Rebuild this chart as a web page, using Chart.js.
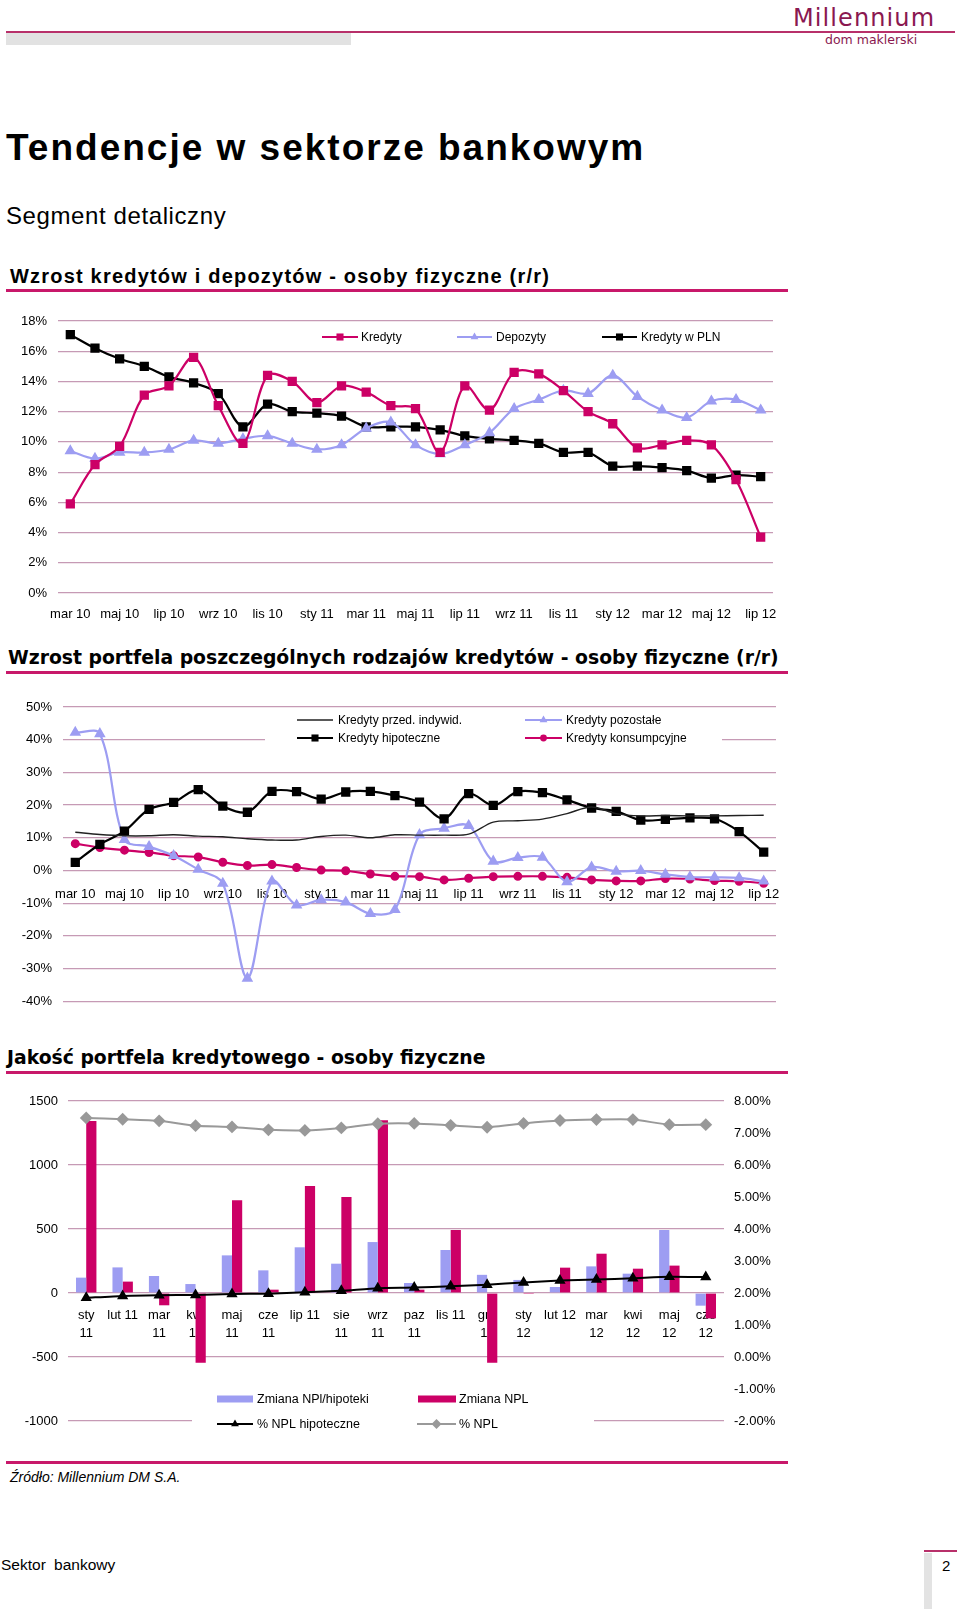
<!DOCTYPE html>
<html lang="pl">
<head>
<meta charset="utf-8">
<title>Tendencje w sektorze bankowym</title>
<script src="https://cdn.jsdelivr.net/npm/chart.js@4.4.1/dist/chart.umd.min.js"></script>
<style>
  html, body { margin: 0; padding: 0; background: #fff; }
  #page { position: relative; width: 960px; height: 1611px; overflow: hidden; font-family: "Liberation Sans", Arial, sans-serif; color: #000; }
  .abs { position: absolute; white-space: nowrap; line-height: 1; }
  .rule { position: absolute; left: 6px; width: 782px; height: 3px; background: #c8186a; }
  .ctitle { position: absolute; left: 8px; white-space: nowrap; line-height: 1; font-family: "DejaVu Sans", Verdana, sans-serif; font-weight: bold; font-size: 18.8px; }
  canvas { position: absolute; left: 0; }
</style>
</head>
<body>
<div id="page">
  <!-- header -->
  <div class="abs" style="left:793px;top:6px;font-family:'DejaVu Sans',sans-serif;font-size:24px;letter-spacing:1.1px;color:#8a1850;">Millennium</div>
  <div style="position:absolute;left:6px;top:31px;width:949px;height:2px;background:#b8306a;"></div>
  <div style="position:absolute;left:6px;top:33px;width:345px;height:12px;background:#e2e2e2;"></div>
  <div class="abs" style="left:825px;top:34px;font-family:'DejaVu Sans',sans-serif;font-size:12.5px;color:#8a1850;">dom maklerski</div>

  <div class="abs" style="left:6px;top:129px;font-size:37px;font-weight:bold;letter-spacing:2px;">Tendencje w sektorze bankowym</div>
  <div class="abs" style="left:6px;top:204px;font-size:24px;letter-spacing:0.6px;">Segment detaliczny</div>

  <!-- chart 1 -->
  <div class="abs" style="left:10px;top:266px;font-size:20px;font-weight:bold;letter-spacing:1.2px;">Wzrost kredytów i depozytów - osoby fizyczne (r/r)</div>
  <div class="rule" style="top:289px;"></div>
  <canvas id="c1" width="800" height="330" style="top:300px;"></canvas>

  <!-- chart 2 -->
  <div class="ctitle" style="top:649px;">Wzrost portfela poszczególnych rodzajów kredytów - osoby fizyczne (r/r)</div>
  <div class="rule" style="top:671px;"></div>
  <canvas id="c2" width="800" height="340" style="top:680px;"></canvas>

  <!-- chart 3 -->
  <div class="ctitle" style="top:1049px;left:7px;">Jakość portfela kredytowego - osoby fizyczne</div>
  <div class="rule" style="top:1071px;"></div>
  <canvas id="c3" width="800" height="360" style="top:1080px;"></canvas>

  <div class="rule" style="top:1461px;"></div>
  <div class="abs" style="left:10px;top:1470px;font-size:14px;font-style:italic;">Źródło: Millennium DM S.A.</div>

  <!-- footer -->
  <div class="abs" style="left:1px;top:1557px;font-size:15.5px;word-spacing:4px;">Sektor bankowy</div>
  <div style="position:absolute;left:924px;top:1550px;width:33px;height:2px;background:#b8306a;"></div>
  <div style="position:absolute;left:924px;top:1553px;width:8px;height:56px;background:#e3e3e3;"></div>
  <div class="abs" style="left:942px;top:1558px;font-size:15px;">2</div>
</div>

<script>
// DATA

// chart 1: Wzrost kredytów i depozytów (r/r, %)
const months1 = ['mar 10', 'kwi 10', 'maj 10', 'cze 10', 'lip 10', 'sie 10', 'wrz 10', 'paz 10', 'lis 10', 'gru 10',
	'sty 11', 'lut 11', 'mar 11', 'kwi 11', 'maj 11', 'cze 11', 'lip 11', 'sie 11', 'wrz 11', 'paz 11', 'lis 11', 'gru 11',
	'sty 12', 'lut 12', 'mar 12', 'kwi 12', 'maj 12', 'cze 12', 'lip 12'];
const kredyty = [5.9, 8.5, 9.7, 13.1, 13.7, 15.6, 12.4, 9.9, 14.4, 14.0, 12.6, 13.7, 13.3, 12.4, 12.2, 9.3, 13.7,
	12.1, 14.6, 14.5, 13.4, 12.0, 11.2, 9.6, 9.8, 10.1, 9.8, 7.5, 3.7];
const depozyty = [9.4, 8.9, 9.3, 9.3, 9.5, 10.1, 9.9, 10.2, 10.4, 9.9, 9.5, 9.8, 10.9, 11.3, 9.8, 9.2, 9.8,
	10.6, 12.2, 12.8, 13.4, 13.2, 14.4, 13.0, 12.1, 11.6, 12.7, 12.8, 12.1];
const kredytyPln = [17.1, 16.2, 15.5, 15.0, 14.3, 13.9, 13.2, 11.0, 12.5, 12.0, 11.9, 11.7, 11.0, 11.0, 11.0, 10.8, 10.4,
	10.2, 10.1, 9.9, 9.3, 9.3, 8.4, 8.4, 8.3, 8.1, 7.6, 7.8, 7.7];

// chart 2: Wzrost portfela poszczególnych rodzajów kredytów (r/r, %)
const months2 = months1;
const przedIndywid = [11.7, 11.0, 10.6, 10.6, 10.9, 10.5, 10.3, 9.7, 9.3, 9.3, 10.4, 10.8, 10.0, 10.9, 10.8, 10.8, 11.1,
	14.8, 15.2, 15.7, 17.4, 19.4, 17.4, 16.7, 16.8, 16.7, 16.7, 16.8, 16.9];
const hipoteczne = [2.5, 8.0, 12.0, 18.7, 20.8, 24.7, 19.7, 17.8, 24.2, 24.1, 21.8, 24.0, 24.2, 22.9, 20.9, 15.8, 23.5,
	19.9, 24.1, 23.8, 21.6, 19.1, 18.1, 15.4, 15.6, 16.1, 15.8, 11.9, 5.6];
const pozostale = [42.2, 41.8, 9.4, 7.3, 4.5, 0.3, -4.0, -33.0, -3.3, -10.6, -9.0, -9.7, -13.2, -12.0, 10.9, 12.9, 13.7,
	2.8, 3.9, 4.0, -3.5, 1.0, -0.3, -0.1, -1.2, -2.0, -2.1, -2.3, -3.3];
const konsumpcyjne = [8.2, 7.0, 6.2, 5.5, 4.5, 4.1, 2.5, 1.5, 1.8, 0.9, 0.1, -0.1, -1.1, -1.8, -1.9, -2.9, -2.4,
	-1.9, -1.8, -1.8, -2.1, -2.9, -3.2, -3.2, -2.5, -2.6, -3.1, -3.3, -3.9];

// chart 3: Jakość portfela kredytowego
const months3 = [['sty', '11'], 'lut 11', ['mar', '11'], ['kwi', '11'], ['maj', '11'], ['cze', '11'], 'lip 11',
	['sie', '11'], ['wrz', '11'], ['paz', '11'], 'lis 11', ['gru', '11'], ['sty', '12'], 'lut 12', ['mar', '12'],
	['kwi', '12'], ['maj', '12'], ['cze', '12']];
const zmianaNplHip = [120, 200, 133, 70, 294, 177, 357, 229, 398, 78, 336, 142, 102, 47, 208, 151, 492, -99];
const zmianaNpl = [1344, 89, -96, -545, 724, 26, 836, 750, 1349, 26, 492, -545, -8, 198, 307, 190, 214, -198];
const nplHip = [1.85, 1.91, 1.93, 1.94, 1.97, 1.98, 2.02, 2.07, 2.15, 2.17, 2.21, 2.26, 2.33, 2.39, 2.42, 2.46, 2.51, 2.50];
const npl = [7.47, 7.43, 7.38, 7.23, 7.19, 7.10, 7.08, 7.16, 7.29, 7.30, 7.24, 7.18, 7.30, 7.39, 7.42, 7.42, 7.26, 7.26];

// STYLE

const PINK = '#cc0066';
const LILAC = '#9d9df2';
const GREY = '#999999';
const GRID = '#c69ab5';
const FONT = { family: '"Liberation Sans", Arial, sans-serif', size: 13 };

Chart.defaults.font.family = FONT.family;
Chart.defaults.color = '#000';

//==================================
// LEGEND PLUGIN (drawn inside the plot, like the original)
//==================================

function drawMarker(ctx, style, x, y, r, color) {
	ctx.fillStyle = color;
	ctx.beginPath();
	if (style === 'rect') {
		const s = Math.SQRT1_2 * r;
		ctx.rect(x - s, y - s, 2 * s, 2 * s);
	} else if (style === 'triangle') {
		ctx.moveTo(x, y - r);
		ctx.lineTo(x + r * 0.866, y + r * 0.5);
		ctx.lineTo(x - r * 0.866, y + r * 0.5);
		ctx.closePath();
	} else if (style === 'rectRot') {
		ctx.moveTo(x, y - r);
		ctx.lineTo(x + r, y);
		ctx.lineTo(x, y + r);
		ctx.lineTo(x - r, y);
		ctx.closePath();
	} else if (style === 'circle') {
		ctx.arc(x, y, r, 0, Math.PI * 2);
	}
	ctx.fill();
}

const boxLegend = {
	id: 'boxLegend',
	beforeDatasetsDraw(chart, args, opts) {
		if (!opts.cover) return;
		const c = opts.cover;
		chart.ctx.save();
		chart.ctx.fillStyle = '#fff';
		chart.ctx.fillRect(c.x, c.y, c.w, c.h);
		chart.ctx.restore();
	},
	afterDatasetsDraw(chart, args, opts) {
		if (!opts.items) return;
		const ctx = chart.ctx;
		ctx.save();
		opts.items.forEach(it => {
			const ds = chart.data.datasets[it.ds];
			const isBar = (ds.type || chart.config.type) === 'bar';
			if (isBar) {
				ctx.fillStyle = ds.backgroundColor;
				ctx.fillRect(it.x0, it.y - 3.5, it.x1 - it.x0, 7);
			} else {
				ctx.strokeStyle = ds.borderColor;
				ctx.lineWidth = ds.borderWidth;
				ctx.beginPath();
				ctx.moveTo(it.x0, it.y);
				ctx.lineTo(it.x1, it.y);
				ctx.stroke();
				if (ds.pointRadius > 0) {
					drawMarker(ctx, ds.pointStyle, (it.x0 + it.x1) / 2, it.y, ds.pointRadius, ds.borderColor);
				}
			}
			ctx.fillStyle = '#000';
			ctx.font = (opts.fontSize || 12) + 'px ' + FONT.family;
			ctx.textBaseline = 'middle';
			ctx.textAlign = 'left';
			ctx.fillText(ds.label, it.tx, it.y + 0.5);
		});
		ctx.restore();
	}
};

function lineSet(label, data, color, style, radius, width) {
	return {
		type: 'line',
		label: label,
		data: data,
		borderColor: color,
		backgroundColor: color,
		pointBackgroundColor: color,
		pointBorderColor: color,
		pointStyle: style,
		pointRadius: radius,
		borderWidth: width,
		tension: 0.33,
		fill: false,
	};
}

//==================================
// CHART 1
//==================================

new Chart(document.getElementById('c1').getContext('2d'), {
	type: 'line',
	data: {
		labels: months1,
		datasets: [
			lineSet('Kredyty', kredyty, PINK, 'rect', 5, 2.2),
			lineSet('Depozyty', depozyty, LILAC, 'triangle', 4.5, 2.2),
			lineSet('Kredyty w PLN', kredytyPln, '#000', 'rect', 5, 2.2),
		],
	},
	options: {
		responsive: false,
		animation: false,
		layout: { padding: { top: 21, right: 27, bottom: 0, left: 0 } },
		plugins: {
			legend: { display: false },
			tooltip: { enabled: false },
			boxLegend: {
				items: [
					{ ds: 0, x0: 322, x1: 358, tx: 361, y: 37 },
					{ ds: 1, x0: 457, x1: 492, tx: 496, y: 37 },
					{ ds: 2, x0: 602, x1: 637, tx: 641, y: 37 },
				],
			},
		},
		scales: {
			x: {
				offset: true,
				grid: { display: false },
				border: { display: false },
				ticks: {
					autoSkip: false, maxRotation: 0, padding: 6, font: FONT,
					callback: (v, i) => (i % 2 === 0 ? months1[i] : ''),
				},
				afterFit: s => { s.height = 37; },
			},
			y: {
				min: 0, max: 18,
				grid: { color: GRID, lineWidth: 1.2, drawTicks: false },
				border: { display: false },
				ticks: { stepSize: 2, padding: 11, font: FONT, callback: v => v + '%' },
				afterFit: s => { s.width = 58; },
			},
		},
	},
	plugins: [boxLegend],
});

//==================================
// CHART 2
//==================================

new Chart(document.getElementById('c2').getContext('2d'), {
	type: 'line',
	data: {
		labels: months2,
		datasets: [
			lineSet('Kredyty przed. indywid.', przedIndywid, '#222', 'circle', 0, 1.4),
			lineSet('Kredyty hipoteczne', hipoteczne, '#000', 'rect', 5, 2.2),
			lineSet('Kredyty pozostałe', pozostale, LILAC, 'triangle', 4.5, 2.2),
			lineSet('Kredyty konsumpcyjne', konsumpcyjne, PINK, 'circle', 3.4, 2.2),
		],
	},
	options: {
		responsive: false,
		animation: false,
		layout: { padding: { top: 27, right: 24, bottom: 13, left: 0 } },
		plugins: {
			legend: { display: false },
			tooltip: { enabled: false },
			boxLegend: {
				cover: { x: 265, y: 31, w: 457, h: 38 },
				items: [
					{ ds: 0, x0: 297, x1: 333, tx: 338, y: 40 },
					{ ds: 1, x0: 297, x1: 333, tx: 338, y: 58 },
					{ ds: 2, x0: 525, x1: 562, tx: 566, y: 40 },
					{ ds: 3, x0: 525, x1: 562, tx: 566, y: 58 },
				],
			},
		},
		scales: {
			x: {
				position: { y: 0 },
				offset: true,
				grid: { display: false },
				border: { display: false },
				ticks: {
					autoSkip: false, maxRotation: 0, padding: 8, font: FONT,
					callback: (v, i) => (i % 2 === 0 ? months2[i] : ''),
				},
				afterFit: s => { s.height = 0; },
			},
			y: {
				min: -40, max: 50,
				grid: { color: GRID, lineWidth: 1.2, drawTicks: false },
				border: { display: false },
				ticks: { stepSize: 10, padding: 11, font: FONT, callback: v => v + '%' },
				afterFit: s => { s.width = 63; },
			},
		},
	},
	plugins: [boxLegend],
});

//==================================
// CHART 3
//==================================

const barOpts = { barPercentage: 1, categoryPercentage: 0.56, yAxisID: 'y', order: 2 };
const npLineHip = lineSet('% NPL hipoteczne', nplHip, '#000', 'triangle', 4.5, 2);
const npLine = lineSet('% NPL', npl, GREY, 'rectRot', 5, 2);
npLineHip.yAxisID = 'y1'; npLineHip.order = 0; npLineHip.tension = 0.2;
npLine.yAxisID = 'y1'; npLine.order = 1; npLine.tension = 0.2;

new Chart(document.getElementById('c3').getContext('2d'), {
	type: 'bar',
	data: {
		labels: months3,
		datasets: [
			Object.assign({ type: 'bar', label: 'Zmiana NPl/hipoteki', data: zmianaNplHip, backgroundColor: LILAC }, barOpts),
			Object.assign({ type: 'bar', label: 'Zmiana NPL', data: zmianaNpl, backgroundColor: PINK }, barOpts),
			npLineHip,
			npLine,
		],
	},
	options: {
		responsive: false,
		animation: false,
		layout: { padding: { top: 21, right: 0, bottom: 19, left: 0 } },
		plugins: {
			legend: { display: false },
			tooltip: { enabled: false },
			boxLegend: {
				fontSize: 12.5,
				cover: { x: 192, y: 296, w: 402, h: 64 },
				items: [
					{ ds: 0, x0: 217, x1: 253, tx: 257, y: 319 },
					{ ds: 1, x0: 418, x1: 456, tx: 459, y: 319 },
					{ ds: 2, x0: 217, x1: 253, tx: 257, y: 344 },
					{ ds: 3, x0: 417, x1: 456, tx: 459, y: 344 },
				],
			},
		},
		scales: {
			x: {
				position: { y: 0 },
				offset: true,
				grid: { display: false },
				border: { display: false },
				ticks: { autoSkip: false, maxRotation: 0, padding: 5, font: { family: FONT.family, size: 13, lineHeight: 1.4 } },
				afterFit: s => { s.height = 0; },
			},
			y: {
				position: 'left',
				min: -1000, max: 1500,
				grid: { color: GRID, lineWidth: 1.2, drawTicks: false },
				border: { display: false },
				ticks: { stepSize: 500, padding: 10, font: FONT, callback: v => String(v) },
				afterFit: s => { s.width = 68; },
			},
			y1: {
				position: 'right',
				min: -2, max: 8,
				grid: { display: false, drawTicks: false },
				border: { display: false },
				ticks: { stepSize: 1, padding: 10, font: FONT, callback: v => v.toFixed(2) + '%' },
				afterFit: s => { s.width = 76; },
			},
		},
	},
	plugins: [boxLegend],
});
</script>
</body>
</html>
